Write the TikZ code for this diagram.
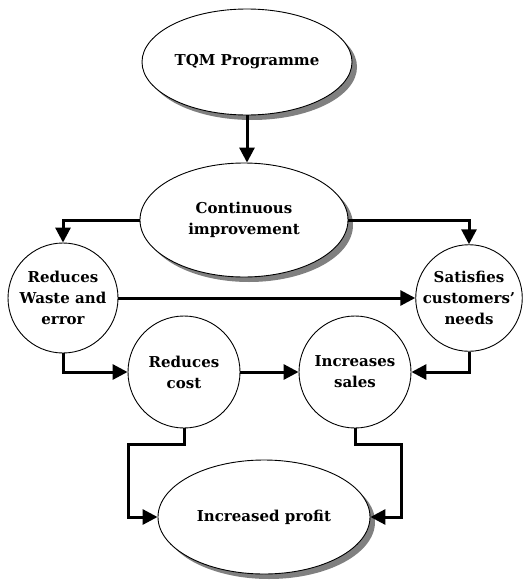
\documentclass[tikz,border=0pt]{standalone}
\usepackage{fontspec}
\setmainfont{DejaVu Serif}
\usetikzlibrary{shapes.geometric,arrows.meta,shadows}
\begin{document}
\begin{tikzpicture}[x=1pt,y=-1pt,
  txt/.style={font=\bfseries\fontsize{15}{21}\selectfont, align=center, text=black},
  oval/.style={txt, ellipse, draw=black, line width=0.9pt, fill=white, inner sep=0pt,
    drop shadow={shadow xshift=5pt, shadow yshift=-5pt, fill=black!50, opacity=1}},
  blob/.style={txt, circle, draw=black, line width=0.9pt, fill=white, inner sep=0pt},
  conn/.style={line width=3pt, -{Triangle[length=15pt,width=15pt]}}
]
\useasboundingbox (0,0) rectangle (531,581);
\node[oval, minimum width=210pt, minimum height=106pt] (tqm) at (247,62) {TQM Programme};
\node[oval, minimum width=208pt, minimum height=114pt] (ci) at (244,220) {Continuous\\improvement};
\node[blob, minimum size=110pt] (rw) at (63,298) {Reduces\\Waste and\\error};
\node[blob, minimum size=106pt] (sc) at (469,298) {Satisfies\\customers'\\needs};
\node[blob, minimum size=112pt] (rc) at (184,372) {Reduces\\cost};
\node[blob, minimum size=112pt] (is) at (355,372) {Increases\\sales};
\node[oval, minimum width=212pt, minimum height=114pt] (ip) at (264,517) {Increased profit};

\coordinate (l1) at (184,444);
\coordinate (l2) at (128,444);
\coordinate (r1) at (355,444);
\coordinate (r2) at (401,444);

\draw[conn] (tqm.south) -- (tqm.south |- ci.north);
\draw[conn] (ci.west) -| (rw.north);
\draw[conn] (ci.east) -| (sc.north);
\draw[conn] (rw.east) -- (sc.west);
\draw[conn] (rw.south) |- (rc.west);
\draw[conn] (rc.east) -- (is.west);
\draw[conn] (sc.south) |- (is.east);
\draw[conn] (rc.south) -- (l1) -- (l2) |- (ip.west);
\draw[conn] (is.south) -- (r1) -- (r2) |- (ip.east);
\end{tikzpicture}
\end{document}
